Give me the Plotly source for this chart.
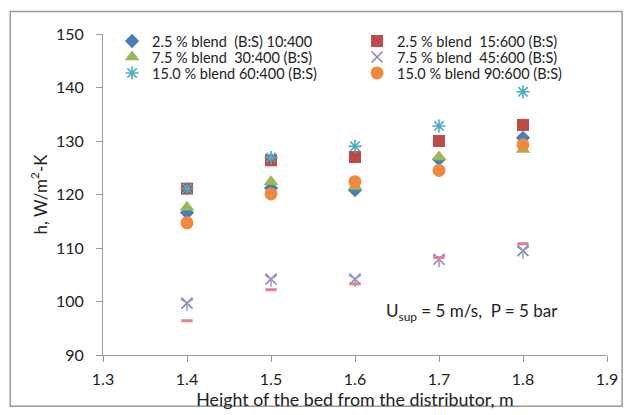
import plotly.graph_objects as go

heights = [1.4, 1.5, 1.6, 1.7, 1.8]

names = [
    "2.5\u00a0% blend\u00a0\u00a0(B:S) 10:400",
    "2.5\u00a0% blend\u00a0\u00a015:600 (B:S)",
    "7.5\u00a0% blend\u00a0\u00a030:400 (B:S)",
    "7.5\u00a0% blend\u00a0\u00a045:600 (B:S)",
    "15.0\u00a0% blend 60:400 (B:S)",
    "15.0\u00a0% blend 90:600 (B:S)",
]
h_10_400 = [116.6, 121.2, 120.8, 126.6, 130.6]
h_15_600 = [121.1, 126.4, 127.0, 130.0, 133.0]
h_30_400 = [117.6, 122.4, 121.5, 127.0, 128.4]
h_45_600 = [99.7, 104.2, 104.2, 107.9, 109.5]
h_60_400 = [121.1, 126.9, 129.0, 132.8, 139.2]
h_90_600 = [114.7, 120.1, 122.4, 124.5, 129.3]
h_extra = [96.4, 102.2, 103.3, 108.2, 110.8]

series = [h_10_400, h_15_600, h_30_400, h_45_600, h_60_400, h_90_600]
symbols = ["diamond", "square", "triangle-up", "x-thin-open", "asterisk-open", "circle"]
colors = ["#4A7EBB", "#BE4B48", "#98B954", "#8C82C0", "#4BACC6", "#F0893C"]
sizes = [11, 12, 13, 11, 11, 13]
legend_ids = ["legend", "legend", "legend2", "legend2", "legend3", "legend3"]

fig = go.Figure()
for name, ys, sym, col, sz, lg in zip(names, series, symbols, colors, sizes, legend_ids):
    marker = dict(symbol=sym, color=col, size=sz)
    if sym.endswith("open"):
        marker["line"] = dict(color=col, width=1.6)
    fig.add_trace(go.Scatter(x=heights, y=ys, mode="markers", name=name,
                             marker=marker, legend=lg))

# stem drawn over the 45:600 crosses, as in the original chart
fig.add_trace(go.Scatter(
    x=heights, y=h_45_600, mode="markers", showlegend=False,
    marker=dict(symbol="y-down-open", size=10, color="#8E9CCF",
                line=dict(color="#8E9CCF", width=1.5)),
))
fig.add_trace(go.Scatter(
    x=heights, y=h_extra, mode="markers", showlegend=False,
    marker=dict(symbol="line-ew-open", size=8, color="#E5808B",
                line=dict(color="#E5808B", width=3)),
))

fig.add_annotation(
    x=0.732, y=0.134, xref="paper", yref="paper", xanchor="center", yanchor="middle",
    text="U<sub>sup</sub> = 5 m/s,\u00a0\u00a0P = 5 bar",
    showarrow=False, font=dict(size=17, color="#222222"),
)

fig.add_shape(type="rect", xref="paper", yref="paper",
              x0=-0.184, x1=1.03, y0=-0.16, y1=1.07,
              line=dict(color="#9a9a9a", width=1.5))

axis_font = dict(family="Lato, Open Sans, sans-serif", size=16, color="#222222")


def row_legend(ycenter):
    return dict(orientation="h", x=0.018, y=ycenter, xanchor="left", yanchor="middle",
                entrywidth=200, entrywidthmode="pixels", itemwidth=30,
                bgcolor="rgba(0,0,0,0)", font=dict(size=14.5), tracegroupgap=0)


fig.update_layout(
    width=631, height=415,
    margin=dict(l=103, r=24, t=34, b=60),
    paper_bgcolor="white", plot_bgcolor="white",
    font=axis_font,
    xaxis=dict(range=[1.3, 1.9], dtick=0.1, tickformat=".1f", showgrid=False, zeroline=False,
               showline=True, linecolor="#9a9a9a", linewidth=1, ticks="outside", ticklen=6,
               tickcolor="#9a9a9a", ticklabelstandoff=4, automargin=False,
               title=dict(text="Height of the bed from the distributor, m", standoff=4,
                          font=dict(size=17.8))),
    yaxis=dict(range=[90, 150], dtick=10, showgrid=False, zeroline=False,
               showline=True, linecolor="#9a9a9a", linewidth=1, ticks="outside", ticklen=6,
               tickcolor="#9a9a9a", ticklabelstandoff=9, automargin=False,
               title=dict(text="h, W/m<sup>2</sup>-K", standoff=4, font=dict(size=17))),
    legend=row_legend(0.978),
    legend2=row_legend(0.928),
    legend3=row_legend(0.8785),
)

fig.write_html("out.html")
